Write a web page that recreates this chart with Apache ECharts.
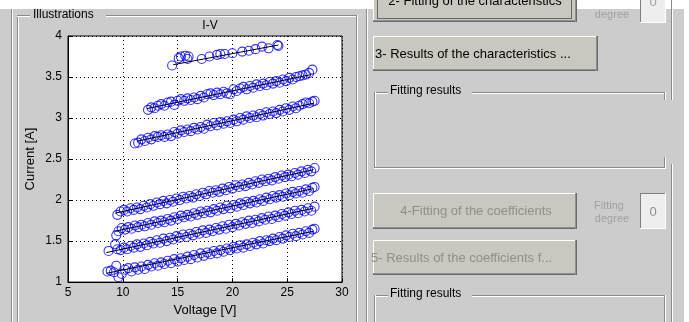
<!DOCTYPE html>
<html>
<head>
<meta charset="utf-8">
<script src="https://cdn.jsdelivr.net/npm/echarts@6/dist/echarts.min.js"></script>
<style>
html, body { margin: 0; padding: 0; background: #cccccc; }
#chart { width: 689px; height: 322px; }
</style>
</head>
<body>
<div id="chart"></div>
<script>
// measured I-V points, one pair of arrays per curve (bottom to top)
const v1 = [8.6, 8.9, 9.2, 9.4, 9.6, 9.9, 10.2, 10.5, 10.8, 11.1, 11.4, 11.7, 12.0, 12.3, 12.6, 12.9, 13.2, 13.5, 13.8, 14.1, 14.4, 14.7, 15.0, 15.3, 15.6, 15.9, 16.2, 16.5, 16.8, 17.1, 17.4, 17.7, 18.0, 18.3, 18.6, 18.9, 19.2, 19.5, 19.8, 20.1, 20.4, 20.7, 21.0, 21.3, 21.6, 21.9, 22.2, 22.5, 22.8, 23.1, 23.4, 23.7, 24.0, 24.3, 24.6, 24.9, 25.2, 25.5, 25.8, 26.1, 26.4, 26.7, 27.0, 27.3, 27.5];
const i1 = [1.13, 1.14, 1.12, 1.20, 1.06, 1.10, 1.15, 1.17, 1.13, 1.18, 1.15, 1.19, 1.16, 1.21, 1.19, 1.23, 1.20, 1.24, 1.22, 1.26, 1.23, 1.28, 1.25, 1.29, 1.27, 1.31, 1.28, 1.33, 1.30, 1.35, 1.32, 1.36, 1.34, 1.38, 1.35, 1.39, 1.37, 1.41, 1.39, 1.43, 1.41, 1.45, 1.42, 1.46, 1.44, 1.48, 1.46, 1.50, 1.47, 1.51, 1.50, 1.53, 1.51, 1.55, 1.53, 1.57, 1.55, 1.59, 1.56, 1.60, 1.58, 1.62, 1.60, 1.64, 1.65];

const v2 = [8.7, 9.3, 9.5, 9.8, 10.1, 10.4, 10.7, 11.0, 11.3, 11.6, 11.9, 12.2, 12.5, 12.8, 13.1, 13.4, 13.7, 14.0, 14.3, 14.6, 14.9, 15.2, 15.5, 15.8, 16.1, 16.4, 16.7, 17.0, 17.3, 17.6, 17.9, 18.2, 18.5, 18.8, 19.1, 19.4, 19.7, 20.0, 20.3, 20.6, 20.9, 21.2, 21.5, 21.8, 22.1, 22.4, 22.7, 23.0, 23.3, 23.6, 23.9, 24.2, 24.5, 24.8, 25.1, 25.4, 25.7, 26.0, 26.3, 26.6, 26.9, 27.2, 27.5];
const i2 = [1.38, 1.46, 1.40, 1.39, 1.42, 1.40, 1.44, 1.42, 1.46, 1.43, 1.47, 1.45, 1.49, 1.47, 1.51, 1.48, 1.53, 1.50, 1.54, 1.52, 1.56, 1.54, 1.58, 1.55, 1.59, 1.57, 1.61, 1.59, 1.63, 1.60, 1.64, 1.62, 1.66, 1.64, 1.68, 1.65, 1.70, 1.67, 1.71, 1.69, 1.73, 1.71, 1.75, 1.72, 1.76, 1.74, 1.78, 1.76, 1.80, 1.77, 1.81, 1.79, 1.83, 1.81, 1.85, 1.83, 1.87, 1.84, 1.88, 1.86, 1.90, 1.87, 1.92];

const v3 = [9.4, 9.6, 9.9, 10.2, 10.5, 10.8, 11.1, 11.4, 11.7, 12.0, 12.3, 12.6, 12.9, 13.2, 13.5, 13.8, 14.1, 14.4, 14.7, 15.0, 15.3, 15.6, 15.9, 16.2, 16.5, 16.8, 17.1, 17.4, 17.7, 18.0, 18.3, 18.6, 18.9, 19.2, 19.5, 19.8, 20.1, 20.4, 20.7, 21.0, 21.3, 21.6, 21.9, 22.2, 22.5, 22.8, 23.1, 23.4, 23.7, 24.0, 24.3, 24.6, 24.9, 25.2, 25.5, 25.8, 26.1, 26.4, 26.7, 27.0, 27.3, 27.5];
const i3 = [1.57, 1.62, 1.66, 1.64, 1.67, 1.65, 1.69, 1.67, 1.70, 1.68, 1.72, 1.70, 1.74, 1.72, 1.75, 1.73, 1.77, 1.75, 1.79, 1.77, 1.81, 1.79, 1.82, 1.80, 1.84, 1.82, 1.86, 1.84, 1.87, 1.85, 1.89, 1.87, 1.91, 1.89, 1.93, 1.90, 1.94, 1.92, 1.96, 1.94, 1.98, 1.96, 1.99, 1.97, 2.01, 1.99, 2.03, 2.01, 2.05, 2.03, 2.06, 2.04, 2.08, 2.06, 2.10, 2.08, 2.11, 2.09, 2.13, 2.11, 2.15, 2.16];

const v4 = [9.5, 9.8, 10.1, 10.4, 10.7, 11.0, 11.3, 11.6, 11.9, 12.2, 12.5, 12.8, 13.1, 13.4, 13.7, 14.0, 14.3, 14.6, 14.9, 15.2, 15.5, 15.8, 16.1, 16.4, 16.7, 17.0, 17.3, 17.6, 17.9, 18.2, 18.5, 18.8, 19.1, 19.4, 19.7, 20.0, 20.3, 20.6, 20.9, 21.2, 21.5, 21.8, 22.1, 22.4, 22.7, 23.0, 23.3, 23.6, 23.9, 24.2, 24.5, 24.8, 25.1, 25.4, 25.7, 26.0, 26.3, 26.6, 26.9, 27.2, 27.5];
const i4 = [1.82, 1.86, 1.88, 1.86, 1.90, 1.88, 1.91, 1.89, 1.93, 1.91, 1.95, 1.93, 1.97, 1.95, 1.99, 1.96, 2.00, 1.98, 2.02, 2.00, 2.04, 2.02, 2.05, 2.03, 2.07, 2.05, 2.09, 2.07, 2.11, 2.09, 2.12, 2.10, 2.14, 2.12, 2.16, 2.14, 2.18, 2.16, 2.19, 2.17, 2.21, 2.19, 2.23, 2.21, 2.25, 2.23, 2.26, 2.24, 2.28, 2.26, 2.30, 2.28, 2.31, 2.29, 2.33, 2.31, 2.35, 2.33, 2.37, 2.35, 2.39];

const v5 = [11.1, 11.4, 11.7, 12.0, 12.3, 12.6, 12.9, 13.2, 13.5, 13.8, 14.1, 14.4, 14.7, 15.0, 15.3, 15.6, 15.9, 16.2, 16.5, 16.8, 17.1, 17.4, 17.7, 18.0, 18.3, 18.6, 18.9, 19.2, 19.5, 19.8, 20.1, 20.4, 20.7, 21.0, 21.3, 21.6, 21.9, 22.2, 22.5, 22.8, 23.1, 23.4, 23.7, 24.0, 24.3, 24.6, 24.9, 25.2, 25.5, 25.8, 26.1, 26.4, 26.7, 27.0, 27.3, 27.5];
const i5 = [2.69, 2.70, 2.74, 2.72, 2.76, 2.74, 2.78, 2.77, 2.79, 2.77, 2.80, 2.78, 2.83, 2.81, 2.85, 2.83, 2.86, 2.84, 2.88, 2.86, 2.89, 2.87, 2.92, 2.90, 2.94, 2.91, 2.95, 2.93, 2.96, 2.94, 2.98, 2.96, 3.00, 2.98, 3.02, 3.00, 3.03, 3.01, 3.05, 3.03, 3.07, 3.05, 3.08, 3.06, 3.10, 3.08, 3.12, 3.10, 3.14, 3.12, 3.15, 3.17, 3.19, 3.18, 3.20, 3.21];

const v6 = [12.3, 12.6, 12.9, 13.2, 13.5, 13.8, 14.1, 14.4, 14.7, 15.0, 15.3, 15.6, 15.9, 16.2, 16.5, 16.8, 17.1, 17.4, 17.7, 18.0, 18.3, 18.6, 18.9, 19.2, 19.5, 19.8, 20.1, 20.4, 20.7, 21.0, 21.3, 21.6, 21.9, 22.2, 22.5, 22.8, 23.1, 23.4, 23.7, 24.0, 24.3, 24.6, 24.9, 25.2, 25.5, 25.8, 26.1, 26.4, 26.7, 27.0, 27.3];
const i6 = [3.10, 3.13, 3.12, 3.15, 3.17, 3.15, 3.19, 3.20, 3.16, 3.21, 3.23, 3.21, 3.24, 3.22, 3.25, 3.23, 3.27, 3.25, 3.29, 3.30, 3.28, 3.31, 3.29, 3.32, 3.30, 3.29, 3.35, 3.33, 3.36, 3.38, 3.35, 3.39, 3.37, 3.41, 3.39, 3.42, 3.40, 3.44, 3.42, 3.45, 3.43, 3.47, 3.45, 3.49, 3.47, 3.50, 3.51, 3.52, 3.53, 3.55, 3.59];

const v7 = [14.5, 15.1, 15.3, 15.7, 15.9, 16.0, 17.2, 17.9, 18.6, 18.9, 19.3, 20.0, 20.9, 21.5, 22.1, 22.7, 23.3, 24.1, 24.2];
const i7 = [3.64, 3.73, 3.75, 3.76, 3.72, 3.75, 3.72, 3.75, 3.77, 3.78, 3.78, 3.79, 3.81, 3.82, 3.84, 3.87, 3.85, 3.89, 3.88];

// linear fit of each curve: start and end
const fitStartV = [8.5, 8.5, 9.3, 9.3, 11.3, 12.2, 14.6];
const fitStartI = [1.107, 1.36, 1.62, 1.84, 2.717, 3.115, 3.65];
const fitEndV = [27.4, 27.4, 27.4, 27.4, 27.4, 27.2, 24.2];
const fitEndI = [1.62, 1.90, 2.14, 2.37, 3.18, 3.53, 3.89];

const xTicks = [5, 10, 15, 20, 25, 30];
const yTicks = [1, 1.5, 2, 2.5, 3, 3.5, 4];

const curves = [[v1, i1], [v2, i2], [v3, i3], [v4, i4], [v5, i5], [v6, i6], [v7, i7]];

const FONT = '"Liberation Sans", Arial, sans-serif';
const DARK = '#8a8a8a';
const LIGHT = '#ffffff';

// GUI decoration helpers (etched frames, buttons, labels)
function hline(x1, x2, y, color) {
    return { type: 'line', z: 1, silent: true, shape: { x1: x1, y1: y + 0.5, x2: x2, y2: y + 0.5 }, style: { stroke: color, lineWidth: 1 } };
}
function vline(x, y1, y2, color) {
    return { type: 'line', z: 1, silent: true, shape: { x1: x + 0.5, y1: y1, x2: x + 0.5, y2: y2 }, style: { stroke: color, lineWidth: 1 } };
}
function etchedH(x1, x2, y) { return [hline(x1, x2, y, DARK), hline(x1, x2, y + 1, LIGHT)]; }
function etchedV(x, y1, y2) { return [vline(x, y1, y2, DARK), vline(x + 1, y1, y2, LIGHT)]; }
function label(text, x, y, size, opts) {
    const o = opts || {};
    return {
        type: 'text', z: 3, silent: true, x: x, y: y,
        style: {
            text: text, fill: o.color || '#000', font: (size || 12) + 'px ' + FONT,
            align: o.align || 'left', verticalAlign: 'middle',
            textShadowColor: o.disabled ? '#ffffff' : null,
            textShadowOffsetX: o.disabled ? 1 : 0, textShadowOffsetY: o.disabled ? 1 : 0
        }
    };
}
function button(x, y, w, h, face) {
    return [
        { type: 'rect', z: 2, silent: true, shape: { x: x, y: y, width: w, height: h }, style: { fill: face || '#c8c8c1' } },
        hline(x, x + w, y, LIGHT), vline(x, y, y + h, LIGHT),
        hline(x, x + w, y + h - 2, '#909090'), hline(x, x + w, y + h - 1, '#6a6a6a'),
        vline(x + w - 2, y, y + h, '#909090'), vline(x + w - 1, y, y + h, '#6a6a6a')
    ].map(e => Object.assign(e, { z: 2 }));
}
function editBox(x, y, w, h) {
    return [
        { type: 'rect', z: 2, silent: true, shape: { x: x, y: y, width: w, height: h }, style: { fill: '#eeeeee' } },
        hline(x, x + w, y, '#808080'), vline(x, y, y + h, '#808080'),
        hline(x, x + w, y + h - 1, LIGHT), vline(x + w - 1, y, y + h, LIGHT)
    ].map(e => Object.assign(e, { z: 2 }));
}

const graphics = [].concat(
    [{ type: 'rect', z: 0, silent: true, shape: { x: 0, y: 0, width: 689, height: 9 }, style: { fill: '#ffffff' } }],
    [{ type: 'rect', z: 0, silent: true, shape: { x: 684, y: 0, width: 5, height: 322 }, style: { fill: '#ffffff' } }],
    // left "Illustrations" panel
    etchedV(11, 9, 322), etchedV(17, 15, 322),
    etchedH(17, 30, 15), etchedH(106, 357, 15),
    etchedV(356, 15, 322), etchedV(366, 9, 322),
    [label('Illustrations', 33, 15, 12)],
    // top button (cut off) and degree box
    button(373, -14, 204, 36),
    [{ type: 'rect', z: 3, silent: true, shape: { x: 377.5, y: -4.5, width: 194, height: 23 }, style: { fill: null, stroke: '#000', lineWidth: 1, lineDash: [1, 1] } }],
    [label('2- Fitting of the characteristics', 475, 1, 13, { align: 'center' })],
    [label('degree', 612, 15, 11, { align: 'center', color: '#a0a0a0', disabled: true })],
    editBox(640, -6, 26, 29),
    [label('0', 653, 2, 13, { align: 'center', color: '#a0a0a0' })],
    // button 3
    button(373, 36, 225, 35),
    [label('3- Results of the characteristics ...', 375, 54, 13)],
    // first "Fitting results" box
    etchedH(374, 388, 92), etchedH(472, 665, 92),
    etchedV(374, 92, 168), etchedH(374, 666, 167),
    etchedV(664, 92, 100), etchedV(664, 157, 168),
    [label('Fitting results', 390, 91, 12)],
    // right edge line of the panel
    etchedV(671, 0, 100), etchedV(671, 164, 322),
    // button 4 and fitting degree
    button(373, 193, 204, 36),
    [label('4-Fitting of the coefficients', 476, 211, 13, { align: 'center', color: '#8e8e8e', disabled: true })],
    [label('Fitting', 609, 206, 11, { align: 'center', color: '#a0a0a0', disabled: true })],
    [label('degree', 612, 219, 11, { align: 'center', color: '#a0a0a0', disabled: true })],
    editBox(640, 193, 26, 36),
    [label('0', 653, 212, 13, { align: 'center', color: '#8e8e8e' })],
    // button 5
    button(373, 240, 204, 35),
    [label('5- Results of the coefficients f...', 371, 258, 13, { color: '#8e8e8e', disabled: true })],
    // second "Fitting results" box
    etchedH(374, 388, 295), etchedH(472, 665, 295),
    etchedV(374, 295, 322), etchedV(664, 295, 322),
    [label('Fitting results', 390, 294, 12)]
);

const chart = echarts.init(document.getElementById('chart'));

const scatterSeries = curves.map(([v, c]) => ({
    type: 'scatter',
    data: v.map((x, k) => [x, c[k]]),
    symbol: 'circle',
    symbolSize: 9,
    itemStyle: { color: 'rgba(0,0,0,0)', borderColor: '#0000ff', borderWidth: 1.1 },
    silent: true,
    z: 3
}));

const fitSeries = fitStartV.map((v, k) => ({
    type: 'line',
    data: [[v, fitStartI[k]], [fitEndV[k], fitEndI[k]]],
    symbol: 'none',
    lineStyle: { color: '#000', width: 1 },
    silent: true,
    z: 4
}));

chart.setOption({
    backgroundColor: '#cccccc',
    animation: false,
    title: {
        text: 'I-V',
        left: 205,
        top: 15,
        textAlign: 'center',
        textStyle: { fontSize: 12, fontWeight: 'normal', color: '#000', fontFamily: FONT }
    },
    grid: {
        left: 68, top: 36, right: 347, bottom: 35,
        show: true, backgroundColor: '#ffffff', borderColor: '#000', borderWidth: 1
    },
    xAxis: {
        type: 'value',
        min: xTicks[0], max: xTicks[xTicks.length - 1], interval: 5,
        name: 'Voltage [V]', nameLocation: 'middle', nameGap: 20,
        nameTextStyle: { color: '#000', fontSize: 13, fontFamily: FONT },
        axisLine: { show: true, lineStyle: { color: '#000' } },
        axisTick: { show: true, inside: true, length: 4, lineStyle: { color: '#000' } },
        axisLabel: { color: '#000', fontSize: 12, margin: 5, fontFamily: FONT },
        splitLine: { show: true, lineStyle: { color: '#000', type: [1, 3] } }
    },
    yAxis: {
        type: 'value',
        min: yTicks[0], max: yTicks[yTicks.length - 1], interval: 0.5,
        name: 'Current [A]', nameLocation: 'middle', nameGap: 31,
        nameTextStyle: { color: '#000', fontSize: 13, fontFamily: FONT },
        axisLine: { show: true, lineStyle: { color: '#000' } },
        axisTick: { show: true, inside: true, length: 4, lineStyle: { color: '#000' } },
        axisLabel: { color: '#000', fontSize: 12, margin: 6, fontFamily: FONT },
        splitLine: { show: true, lineStyle: { color: '#000', type: [1, 3] } }
    },
    graphic: graphics,
    series: scatterSeries.concat(fitSeries)
});

window.addEventListener('resize', () => chart.resize());
</script>
</body>
</html>
